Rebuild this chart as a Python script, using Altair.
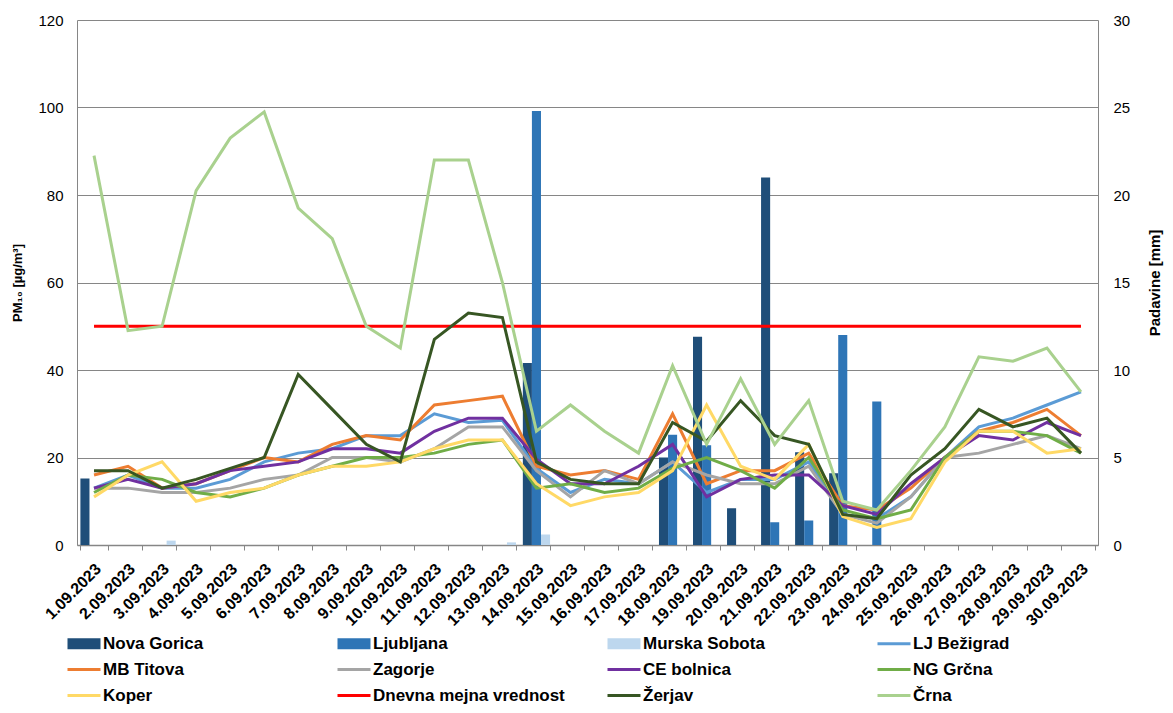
import altair as alt
import pandas as pd

FONT = "Liberation Sans"

dates = ["1.09.2023", "2.09.2023", "3.09.2023", "4.09.2023", "5.09.2023",
         "6.09.2023", "7.09.2023", "8.09.2023", "9.09.2023", "10.09.2023",
         "11.09.2023", "12.09.2023", "13.09.2023", "14.09.2023", "15.09.2023",
         "16.09.2023", "17.09.2023", "18.09.2023", "19.09.2023", "20.09.2023",
         "21.09.2023", "22.09.2023", "23.09.2023", "24.09.2023", "25.09.2023",
         "26.09.2023", "27.09.2023", "28.09.2023", "29.09.2023", "30.09.2023"]

# Precipitation [mm] (right axis, bars)
nova_gorica = [3.8, 0, 0, 0, 0, 0, 0, 0, 0, 0, 0, 0, 0, 10.4, 0,
               0, 0, 5.0, 11.9, 2.1, 21.0, 5.3, 4.1, 0, 0, 0, 0, 0, 0, 0]
ljubljana = [0, 0, 0, 0, 0, 0, 0, 0, 0, 0, 0, 0, 0, 24.8, 0,
             0, 0, 6.3, 5.7, 0, 1.3, 1.4, 12.0, 8.2, 0, 0, 0, 0, 0, 0]
murska_sobota = [0, 0, 0.25, 0, 0, 0, 0, 0, 0, 0, 0, 0, 0.15, 0.6, 0,
                 0, 0, 0, 0, 0, 0, 0, 0, 0, 0, 0, 0, 0, 0, 0]

# PM10 [µg/m3] (left axis, lines)
lj_bezigrad = [13, 16, 13, 13, 15, 19, 21, 22, 25, 25, 30, 28, 28.5, 17.5, 12,
               15, 14, 19, 12, 15, 15, 19, 7, 6, 11, 20, 27, 29, 32, 35]
mb_titova = [16, 18, 13, 14, 17, 20, 19, 23, 25, 24, 32, 33, 34, 18, 16,
             17, 15, 30, 14, 17, 17, 21, 9, 8, 13, 20, 26, 28, 31, 25]
zagorje = [13, 13, 12, 12, 13, 15, 16, 20, 20, 19, 22, 27, 27, 17, 11,
           17, 14, 19, 16, 14, 14, 18, 7, 5, 11, 20, 21, 23, 25, 22]
ce_bolnica = [13, 15, 13, 14, 17, 18, 19, 22, 22, 21, 26, 29, 29, 19.6, 14,
              14, 18, 23, 11, 15, 16, 16, 9, 7, 14, 20, 25, 24, 28, 25]
ng_grcna = [12, 16, 15, 12, 11, 13, 16, 18, 20, 20, 21, 23, 24, 13, 14,
            12, 13, 17.5, 20, 17, 13, 20, 8, 6, 8, 20, 26, 26, 25, 21]
koper = [11, 16, 19, 10, 12, 13, 16, 18, 18, 19, 22, 24, 24, 14, 9,
         11, 12, 17, 32, 18, 15, 23, 6.5, 4, 6, 19, 26, 26, 21, 22]
mejna = [50] * 30
zerjav = [17, 17, 13, 15, 17.5, 20, 39, 31, 23, 19, 47, 53, 52, 19, 15,
          14, 14, 28, 23.7, 33, 25, 23, 7, 6, 16, 22, 31, 27, 29, 21]
crna = [89, 49, 50, 81, 93, 99, 77, 70, 50, 45, 88, 88, 60, 26, 32,
        26, 21, 41, 23, 38, 23, 33, 10, 8, 17, 27, 43, 42, 45, 35]

bar_names = ["Nova Gorica", "Ljubljana", "Murska Sobota"]
bar_values = [nova_gorica, ljubljana, murska_sobota]
line_names = ["LJ Bežigrad", "MB Titova", "Zagorje", "CE bolnica", "NG Grčna",
              "Koper", "Dnevna mejna vrednost", "Žerjav", "Črna"]
line_values = [lj_bezigrad, mb_titova, zagorje, ce_bolnica, ng_grcna,
               koper, mejna, zerjav, crna]
series_colors = {
    "Nova Gorica": "#1F4E79", "Ljubljana": "#2E75B6", "Murska Sobota": "#BDD7EE",
    "LJ Bežigrad": "#5B9BD5", "MB Titova": "#ED7D31", "Zagorje": "#A5A5A5",
    "CE bolnica": "#7030A0", "NG Grčna": "#70AD47", "Koper": "#FFD966",
    "Dnevna mejna vrednost": "#FF0000", "Žerjav": "#375623", "Črna": "#A9D18E",
}
# legend is laid out column by column (3 rows x 4 columns)
legend_order = ["Nova Gorica", "MB Titova", "Koper",
                "Ljubljana", "Zagorje", "Dnevna mejna vrednost",
                "Murska Sobota", "CE bolnica", "Žerjav",
                "LJ Bežigrad", "NG Grčna", "Črna"]

bars_df = pd.DataFrame([
    {"date": d, "series": n, "mm": v}
    for n, vals in zip(bar_names, bar_values)
    for d, v in zip(dates, vals)
])
lines_df = pd.DataFrame([
    {"date": d, "series": n, "pm": v, "k": i}
    for i, (n, vals) in enumerate(zip(line_names, line_values))
    for d, v in zip(dates, vals)
])

GRAY = "#868686"
is_bar = "indexof(['Nova Gorica','Ljubljana','Murska Sobota'], datum.value) >= 0"

color_scale = alt.Scale(domain=legend_order, range=[series_colors[n] for n in legend_order])
legend = alt.Legend(
    title=None, orient="none", legendX=-1.5, legendY=615,
    columns=4, gridAlign="all", columnPadding=36, rowPadding=8,
    symbolSize=400, labelFont=FONT, labelFontSize=17, labelFontWeight="bold",
    labelColor="black", labelOffset=10.5, labelLimit=400,
    symbolType={"expr": is_bar + " ? 'M-1.65,-0.55H1.65V0.55H-1.65Z' : 'M-1.65,0H1.65'"},
    symbolStrokeWidth={"expr": is_bar + " ? 0 : 3"},
    symbolFillColor={"expr": "scale('color', datum.value)"},
    symbolStrokeColor={"expr": "scale('color', datum.value)"},
    symbolOpacity=1,
)

x_enc = alt.X(
    "date:N", sort=dates,
    scale=alt.Scale(type="band", domain=dates, paddingInner=0.2, paddingOuter=0.1),
    axis=alt.Axis(title=None, labelAngle=-45, labelAlign="right", labelBaseline="middle",
                  labelFont=FONT, labelFontSize=16, labelFontWeight="bold", labelColor="black",
                  labelOffset=4, labelPadding=16, labelOverlap=False,
                  tickBand="extent", tickSize=5, tickColor=GRAY, domainColor=GRAY,
                  domainWidth=1.5, grid=False),
)

bars = alt.Chart(bars_df).mark_bar().encode(
    x=x_enc,
    xOffset=alt.XOffset("series:N", sort=bar_names,
                        scale=alt.Scale(domain=bar_names, paddingInner=0, paddingOuter=0)),
    y=alt.Y("mm:Q", scale=alt.Scale(domain=[0, 30], nice=False),
            axis=alt.Axis(orient="right", values=[0, 5, 10, 15, 20, 25, 30],
                          title="Padavine [mm]", grid=False, ticks=False,
                          domainColor=GRAY, labelFont=FONT, labelFontSize=15,
                          labelColor="black", labelPadding=15,
                          titleFont=FONT, titleFontSize=15, titleFontWeight="bold",
                          titleColor="black", titleAngle=-90, titleBaseline="top",
                          titlePadding=18)),
    color=alt.Color("series:N", scale=color_scale, legend=legend),
)

lines = alt.Chart(lines_df).mark_line(strokeWidth=3).encode(
    x=x_enc,
    y=alt.Y("pm:Q", scale=alt.Scale(domain=[0, 120], nice=False),
            axis=alt.Axis(orient="left", values=[0, 20, 40, 60, 80, 100, 120],
                          title="PM₁₀ [µg/m³]", grid=True, gridColor=GRAY, gridWidth=1,
                          ticks=False, domainColor=GRAY, labelFont=FONT, labelFontSize=15,
                          labelColor="black", labelPadding=14,
                          titleFont=FONT, titleFontSize=13, titleFontWeight="bold",
                          titleColor="black", titlePadding=13)),
    color=alt.Color("series:N", scale=color_scale, legend=legend),
    order=alt.Order("k:Q"),
)

chart = alt.layer(bars, lines).resolve_scale(y="independent").properties(
    width=1021, height=525,
    autosize=alt.AutoSizeParams(type="none"),
    padding={"left": 69, "top": 12, "right": 67, "bottom": 160},
).configure_view(stroke=None)

chart.save("out.html", embed_options={"renderer": "svg", "actions": False})
